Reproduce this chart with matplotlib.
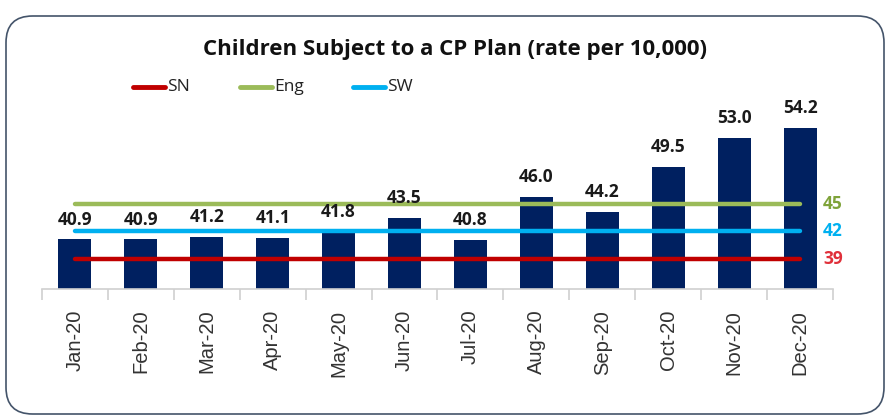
import matplotlib.pyplot as plt
from matplotlib.patches import FancyBboxPatch
from matplotlib.lines import Line2D
import numpy as np

months = ['Jan-20', 'Feb-20', 'Mar-20', 'Apr-20', 'May-20', 'Jun-20',
          'Jul-20', 'Aug-20', 'Sep-20', 'Oct-20', 'Nov-20', 'Dec-20']
rates = [40.9, 40.9, 41.2, 41.1, 41.8, 43.5, 40.8, 46.0, 44.2, 49.5, 53.0, 54.2]

# comparator rates
sn_rate = 38.6
eng_rate = 45.1
sw_rate = 41.9

plt.rcParams['font.family'] = ['Open Sans', 'DejaVu Sans']

W, H = 886, 418
fig = plt.figure(figsize=(W / 100, H / 100), dpi=100)

# rounded border round the chart
border = FancyBboxPatch((6 / W, 4 / H), 878 / W, 398 / H,
                        boxstyle='round,pad=0,rounding_size=0.03',
                        transform=fig.transFigure, fill=False,
                        edgecolor='#44546A', lw=1.2, mutation_aspect=W / H)
fig.patches.append(border)

ax = fig.add_axes([42 / W, 129 / H, (833 - 42) / W, 210 / H])
x = np.arange(len(months))
ax.bar(x, rates, width=0.5, color='#002060', zorder=2)

lines = [('SN', sn_rate, '#C00000', '#E0303A'),
         ('Eng', eng_rate, '#9BBB59', '#7FA33A'),
         ('SW', sw_rate, '#00B0F0', '#00B0F0')]
for name, val, col, tcol in lines:
    ax.plot([x[0], x[-1]], [val, val], color=col, lw=3.2,
            solid_capstyle='round', zorder=3)
    ax.text(x[-1] + 0.35, val, f'{val:.0f}', color=tcol, fontsize=12.5,
            fontweight='bold', va='center', ha='left')

for xi, v in zip(x, rates):
    ax.text(xi, v + 1.3, f'{v:.1f}', ha='center', va='bottom',
            fontsize=12.5, fontweight='bold', color='#1a1a1a')

ax.set_xlim(-0.5, len(months) - 0.5)
ax.set_ylim(35, 60)
ax.set_yticks([])
for s in ['top', 'right', 'left']:
    ax.spines[s].set_visible(False)
ax.spines['bottom'].set_color('#d0d0d0')
ax.spines['bottom'].set_linewidth(1.2)

ax.set_xticks(x)
ax.set_xticklabels(months, rotation=90, fontsize=14.5, color='#333333',
                   family=['Liberation Sans', 'DejaVu Sans'])
ax.tick_params(axis='x', which='major', length=0, pad=15)
ax.set_xticks(np.arange(-0.5, len(months), 1), minor=True)
ax.tick_params(axis='x', which='minor', length=8, color='#d0d0d0', width=1.2)

fig.text(455 / W, 1 - 50 / H, 'Children Subject to a CP Plan (rate per 10,000)',
         ha='center', va='center', fontsize=16, fontweight='bold', color='#111111')

# legend drawn by hand so the spacing matches
leg_x = [133, 240, 353]
leg_y = 1 - 87 / H
for (name, val, col, tcol), lx in zip(lines, leg_x):
    fig.add_artist(Line2D([lx / W, (lx + 32) / W], [leg_y, leg_y], color=col,
                          lw=3.5, solid_capstyle='round', transform=fig.transFigure))
    fig.text((lx + 34) / W, leg_y, name, ha='left', va='center',
             fontsize=12.5, color='#222222')

fig.savefig('out.png', dpi=100)
